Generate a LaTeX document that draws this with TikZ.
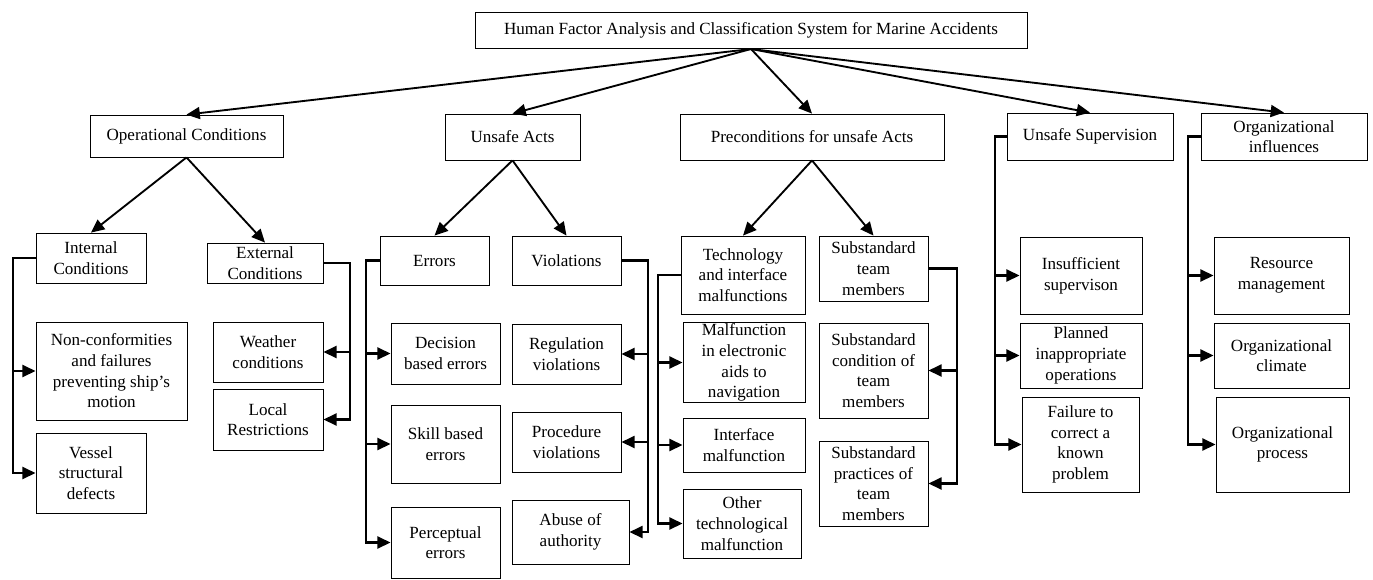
\documentclass[tikz,border=0pt]{standalone}
\usepackage{fontspec}
\setmainfont{Liberation Serif}
\usetikzlibrary{arrows.meta}
\newcommand\bx[6]{\node[box, minimum width={(#4-#2)*0.75pt}, minimum height={(#5-#3)*0.75pt}] (#1) at ({(#2+#4)/2},{(#3+#5)/2}) {#6};}
\begin{document}
\begin{tikzpicture}[x=0.75pt,y=-0.75pt,
 box/.style={draw, line width=0.6pt, inner sep=1pt, align=center, font=\fontsize{12.8}{15.5}\selectfont},
 arr/.style={line width=1.4pt, -{Triangle[length=10pt,width=9pt]}},
 elb/.style={line width=1.9pt, -{Triangle[length=10pt,width=9pt]}}]
\useasboundingbox[fill=white] (0,0) rectangle (1373,579);
% top
\bx{top}{475}{12}{1027}{48}{Human Factor Analysis and Classification System for Marine Accidents}
% level 1
\bx{op}{90}{115}{283}{157}{Operational Conditions}
\bx{ua}{445}{114}{580}{160}{Unsafe Acts}
\bx{pre}{680}{114}{944}{160}{Preconditions for unsafe Acts}
\bx{us}{1007}{113}{1173}{160}{Unsafe Supervision}
\bx{oi}{1201}{113}{1367}{160}{Organizational\\influences}
% level 2
\bx{int}{36}{233}{146}{283}{Internal\\Conditions}
\bx{ext}{207}{243}{323}{283}{External\\Conditions}
\bx{err}{380}{236}{489}{285}{Errors}
\bx{vio}{512}{236}{621}{285}{Violations}
\bx{tech}{681}{236}{805}{314}{Technology\\and interface\\malfunctions}
\bx{sub}{819}{236}{928}{301}{Substandard\\team\\members}
% leaves
\bx{nc}{36}{322}{187}{420}{Non-conformities\\and failures\\preventing ship’s\\motion}
\bx{vs}{36}{433}{146}{513}{Vessel\\structural\\defects}
\bx{wc}{213}{322}{323}{382}{Weather\\conditions}
\bx{lr}{213}{389}{323}{450}{Local\\Restrictions}
\bx{de}{391}{323}{500}{384}{Decision\\based errors}
\bx{se}{391}{405}{500}{483}{Skill based\\errors}
\bx{pe}{391}{507}{500}{578}{Perceptual\\errors}
\bx{rv}{512}{324}{621}{384}{Regulation\\violations}
\bx{pv}{512}{412}{621}{472}{Procedure\\violations}
\bx{ab}{512}{500}{629}{564}{Abuse of\\authority}
\bx{mf}{683}{323}{805}{402}{Malfunction\\in electronic\\aids to\\navigation}
\bx{im}{683}{418}{805}{472}{Interface\\malfunction}
\bx{ot}{683}{489}{801}{558}{Other\\technological\\malfunction}
\bx{sc}{819}{323}{928}{418}{Substandard\\condition of\\team\\members}
\bx{sp}{819}{441}{928}{526}{Substandard\\practices of\\team\\members}
\bx{is}{1020}{237}{1142}{314}{Insufficient\\supervison}
\bx{pl}{1020}{323}{1142}{388}{Planned\\inappropriate\\operations}
\bx{fc}{1022}{397}{1139}{492}{Failure to\\correct a\\known\\problem}
\bx{rm}{1214}{237}{1349}{314}{Resource\\management}
\bx{oc}{1214}{323}{1349}{388}{Organizational\\climate}
\bx{op2}{1216}{397}{1349}{492}{Organizational\\process}
% top arrows
\coordinate (ts) at (751,49);
\foreach \n in {op,ua,pre,us,oi} \draw[arr] (ts) -- (\n.north);
% level 2 arrows
\draw[arr] (op.south) -- (int.north);
\draw[arr] (op.south) -- (ext.north);
\draw[arr] (ua.south) -- (err.north);
\draw[arr] (ua.south) -- (vio.north);
\draw[arr] (pre.south) -- (tech.north);
\draw[arr] (pre.south) -- (sub.north);
% elbows
\coordinate (iL) at (13,0);
\draw[elb] (int.west) -| (iL |- nc.west) -- (nc.west);
\draw[elb] (int.west) -| (iL |- vs.west) -- (vs.west);
\coordinate (eR) at (350,0);
\draw[elb] (ext.east) -| (eR |- wc.east) -- (wc.east);
\draw[elb] (ext.east) -| (eR |- lr.east) -- (lr.east);
\coordinate (erL) at (366,0);
\foreach \n in {de,se,pe} \draw[elb] (err.west) -| (erL |- \n.west) -- (\n.west);
\coordinate (vR) at (648,0);
\foreach \n in {rv,pv,ab} \draw[elb] (vio.east) -| (vR |- \n.east) -- (\n.east);
\coordinate (tL) at (658,0);
\foreach \n in {mf,im,ot} \draw[elb] (tech.west) -| (tL |- \n.west) -- (\n.west);
\coordinate (sR) at (957,0);
\foreach \n in {sc,sp} \draw[elb] (sub.east) -| (sR |- \n.east) -- (\n.east);
\coordinate (uL) at (995,0);
\foreach \n in {is,pl,fc} \draw[elb] (us.west) -| (uL |- \n.west) -- (\n.west);
\coordinate (oL) at (1188,0);
\foreach \n in {rm,oc,op2} \draw[elb] (oi.west) -| (oL |- \n.west) -- (\n.west);
\end{tikzpicture}
\end{document}
